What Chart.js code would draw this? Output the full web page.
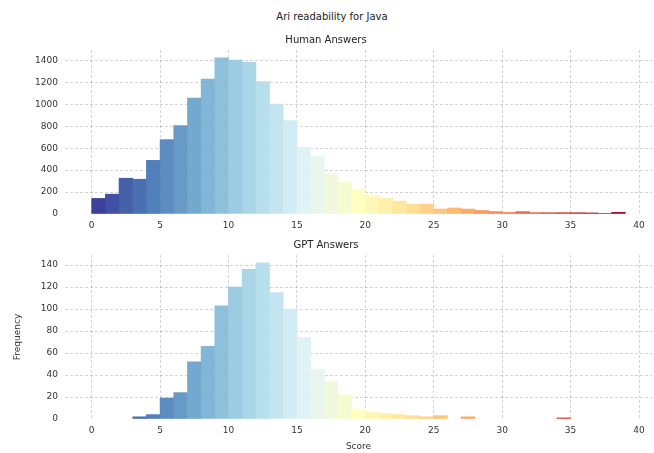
<!DOCTYPE html>
<html><head><meta charset="utf-8">
<script src="https://cdn.jsdelivr.net/npm/chart.js@4"></script>
<style>
html,body{margin:0;padding:0;background:#fff;}
body{width:654px;height:453px;position:relative;overflow:hidden;}
#sup{position:absolute;left:0;width:664px;top:11px;line-height:12px;text-align:center;font-family:"DejaVu Sans";font-size:10px;color:#222;}
.box{position:absolute;left:0;width:654px;}
</style></head><body>
<div id="sup">Ari readability for Java</div>
<div class="box" style="top:28px;height:204px"><canvas id="c1"></canvas></div>
<div class="box" style="top:232px;height:221px"><canvas id="c2"></canvas></div>
<script>
// ---- data ----
const binStarts = [0,1,2,3,4,5,6,7,8,9,10,11,12,13,14,15,16,17,18,19,20,21,22,23,24,25,26,27,28,29,30,31,32,33,34,35,36,37,38];
const humanCounts = [142,181,326,317,489,679,805,1056,1231,1424,1403,1382,1207,1002,851,609,528,368,290,226,166,142,118,90,90,45,55,45,32,22,14,22,12,12,12,12,10,4,15];
const gptCounts = [0,0,0,2,4,19,24,52,66,103,120,136,142,115,100,74,45,34,22,9,6,5,4,3,2,3,0,2,0,0,0,0,0,0,1,0,0,0,0];
const xTickValues = [0,5,10,15,20,25,30,35,40];
const humanYTicks = [0,200,400,600,800,1000,1200,1400];
const gptYTicks = [0,20,40,60,80,100,120,140];
const suptitle = 'Ari readability for Java';
const humanTitle = 'Human Answers';
const gptTitle = 'GPT Answers';
const xLabel = 'Score';
const yLabel = 'Frequency';

// ---- style ----
const anchors = ['#313695','#4575b4','#74add1','#abd9e9','#e0f3f8','#ffffbf','#fee090','#fdae61','#f46d43','#d73027','#a50026'];
function hex(h){return [parseInt(h.slice(1,3),16),parseInt(h.slice(3,5),16),parseInt(h.slice(5,7),16)];}
function cmap(t){
  const p = t*(anchors.length-1); const i = Math.min(Math.floor(p), anchors.length-2); const f = p-i;
  const a = hex(anchors[i]), b = hex(anchors[i+1]);
  return 'rgba(' + a.map((v,k)=>Math.round(v+(b[k]-v)*f)).join(',') + ',0.95)';
}
const barColors = binStarts.map((b,i)=>cmap(i/(binStarts.length-1)));
const FONT = 'DejaVu Sans';
const gridColor = 'rgba(0,0,0,0.17)';
const textColor = '#333';
const span = binStarts[binStarts.length-1] + 1 - binStarts[0];
const xMin = binStarts[0] - 0.05*span, xMax = binStarts[binStarts.length-1] + 1 + 0.05*span;

function makeChart(id, counts, yTicks, title, titlePad, xh, withAxisTitles){
  const yMax = Math.max(...counts)*1.05;
  return new Chart(document.getElementById(id), {
    type:'bar',
    data:{datasets:[{data:counts.map((v,i)=>({x:binStarts[i]+0.5,y:v===0?null:v})), backgroundColor:barColors, borderWidth:0, barPercentage:1, categoryPercentage:1}]},
    options:{
      responsive:true, maintainAspectRatio:false, animation:false, devicePixelRatio:1,
      layout:{padding:{left:0,right:2,top:0,bottom:0}},
      plugins:{legend:{display:false}, tooltip:{enabled:false},
        title:{display:true,text:title,color:'#222',font:{family:FONT,size:10,weight:'normal'},padding:titlePad}},
      scales:{
        x:{type:'linear',min:xMin,max:xMax,offset:false,
          grid:{offset:false,color:gridColor,drawTicks:false,lineWidth:1},
          border:{display:false,dash:[3,2]},
          ticks:{padding:6,color:textColor,font:{family:FONT,size:9},maxRotation:0,autoSkip:false,callback:v=>String(v)},
          afterBuildTicks:s=>{s.ticks=xTickValues.map(v=>({value:v}));},
          afterFit:s=>{s.height=xh;},
          title:{display:withAxisTitles,text:xLabel,color:textColor,font:{family:FONT,size:9},padding:{top:0,bottom:1}}
        },
        y:{min:0,max:yMax,
          grid:{color:c=>(c.tick&&c.tick.value===0)?'rgba(0,0,0,0)':gridColor,drawTicks:false,lineWidth:1},
          border:{display:false,dash:[3,2]},
          ticks:{padding:7,color:textColor,font:{family:FONT,size:9},callback:v=>String(v)},
          afterBuildTicks:s=>{s.ticks=yTicks.map(v=>({value:v}));},
          afterFit:s=>{s.width=65;},
          title:{display:withAxisTitles,text:yLabel,color:textColor,font:{family:FONT,size:9},padding:{top:12,bottom:0}}
        }
      }
    }
  });
}
document.getElementById('sup').textContent = suptitle;
makeChart('c1', humanCounts, humanYTicks, humanTitle, {top:6,bottom:4}, 18, false);
makeChart('c2', gptCounts, gptYTicks, gptTitle, {top:7,bottom:4}, 34, true);
</script>
</body></html>
